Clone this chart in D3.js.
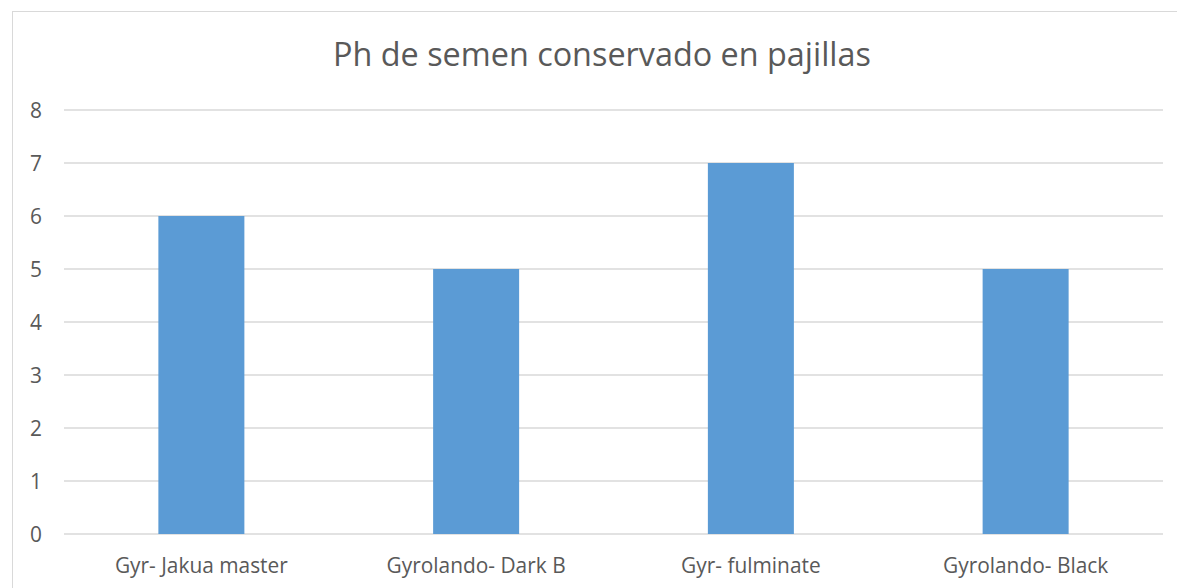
<!DOCTYPE html>
<html><head><meta charset="utf-8">
<script src="https://cdn.jsdelivr.net/npm/d3@7"></script>
<style>body{margin:0;background:#fff;} svg{display:block;}</style>
</head><body>
<svg id="c" width="1177" height="588"></svg>
<script>
const categories = ["Gyr- Jakua master", "Gyrolando- Dark B", "Gyr- fulminate", "Gyrolando- Black"];
const values = [6, 5, 7, 5];
const yTicks = [0, 1, 2, 3, 4, 5, 6, 7, 8];
const title = "Ph de semen conservado en pajillas";

const svg = d3.select("#c");
const font = "'Open Sans', 'Noto Sans', sans-serif";
// chart border
svg.append("rect").attr("x", 12.5).attr("y", 11.5).attr("width", 1190).attr("height", 600)
  .attr("fill", "#fff").attr("stroke", "#d9d9d9").attr("stroke-width", 1);

const x = d3.scaleBand().domain(categories).range([64, 1163]).paddingInner(0.687).paddingOuter(0.3435);
const y = d3.scaleLinear().domain([0, 8]).range([534, 110]);

// gridlines
svg.append("g").selectAll("line").data(yTicks).join("line")
  .attr("x1", 64).attr("x2", 1163)
  .attr("y1", d => y(d)).attr("y2", d => y(d))
  .attr("stroke", "#d9d9d9").attr("stroke-width", 1.3);

// bars
svg.append("g").selectAll("rect").data(values).join("rect")
  .attr("x", (d, i) => x(categories[i]))
  .attr("width", x.bandwidth())
  .attr("y", d => y(d))
  .attr("height", d => y(0) - y(d))
  .attr("fill", "#5b9bd5");

// y axis
const yAxis = d3.axisLeft(y).tickValues(yTicks).tickSize(0).tickPadding(0);
const gy = svg.append("g").attr("transform", "translate(42,0)").call(yAxis);
gy.select(".domain").remove();
gy.selectAll("text").attr("fill", "#595959").style("font-family", font).style("font-size", "19px")
  .attr("dy", "0.36em");

// x axis
const xAxis = d3.axisBottom(x).tickSize(0).tickPadding(0);
const gx = svg.append("g").attr("transform", "translate(0,565)").call(xAxis);
gx.select(".domain").remove();
const xt = gx.selectAll("text").attr("fill", "#595959").style("font-family", font).style("font-size", "19px")
  .attr("dy", "0.36em");
// fit label size to the reference label width
const w0 = xt.nodes()[0].getComputedTextLength();
xt.style("font-size", (19 * 173 / w0).toFixed(2) + "px");
gy.selectAll("text").style("font-size", (19 * 173 / w0).toFixed(2) + "px");

// title
const t = svg.append("text").attr("x", 602).attr("y", 66).attr("text-anchor", "middle")
  .attr("fill", "#595959").style("font-family", font).style("font-size", "30px")
  .text(title);
const tw = t.node().getComputedTextLength();
t.style("font-size", (30 * 538 / tw).toFixed(2) + "px");
</script>
</body></html>
